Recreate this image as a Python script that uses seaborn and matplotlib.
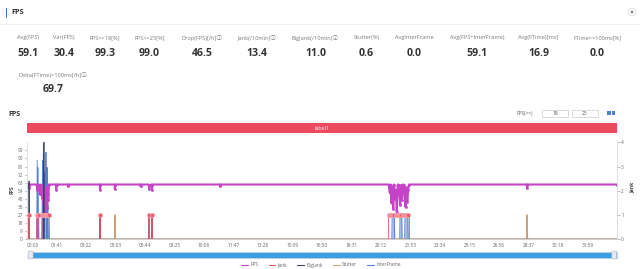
import matplotlib
matplotlib.use("Agg")
import matplotlib.pyplot as plt
import seaborn as sns
from matplotlib.patches import Rectangle, FancyBboxPatch, Circle
from matplotlib.lines import Line2D

sns.set_theme(style="white")
plt.rcParams['font.family'] = ['Open Sans', 'DejaVu Sans', 'Noto Sans CJK SC']

# ---------------- data ----------------
metric_labels = ["Avg(FPS)", "Var(FPS)", "FPS>=18[%]", "FPS>=25[%]", "Drop(FPS)[/h]ⓘ",
                 "Jank(/10min)ⓘ", "BigJank(/10min)ⓘ", "Stutter(%)", "AvgInterFrame",
                 "Avg(FPS+InterFrame)", "Avg(FTime)[ms]", "FTime>=100ms[%]"]
metric_values = ["59.1", "30.4", "99.3", "99.0", "46.5", "13.4", "11.0", "0.6", "0.0",
                 "59.1", "16.9", "0.0"]
metric2_label = "Delta(FTime)>100ms[/h]ⓘ"
metric2_value = "69.7"

# seconds from start
fps_t = [0, 6, 7, 8, 33, 35, 37, 41, 44, 47, 50, 53, 55, 57, 59, 61, 63, 65, 67, 69, 71, 73, 75,
         99, 100, 101, 140, 141, 142, 249, 250, 251, 300, 301, 302, 388, 389, 390, 417, 418, 420,
         427, 428, 429, 660, 661, 662, 1238, 1242, 1245, 1248, 1251, 1254, 1257, 1260, 1263, 1266,
         1269, 1272, 1275, 1278, 1281, 1284, 1287, 1290, 1293, 1296, 1299, 1302, 1305, 1308,
         1711, 1712, 1713, 2020]
fps_v = [61, 61, 57, 61, 61, 55, 61, 61, 50, 61, 58, 46, 60, 38, 56, 30, 52, 42, 58, 35, 50, 44, 61,
         61, 55, 61, 61, 59, 61, 61, 55, 61, 61, 56, 61, 61, 59, 61, 61, 56, 60,
         61, 55, 61, 61, 59, 61, 61, 52, 61, 40, 58, 34, 61, 45, 55, 30,
         61, 61, 50, 38, 60, 44, 61, 61, 48, 36, 58, 42, 55, 61,
         61, 57, 61, 61]

jank_t = [0, 6, 7, 8, 33, 34, 40, 41, 51, 52, 76, 77, 249, 250, 251, 417, 418, 419, 427, 428, 429,
          1237, 1238, 1309, 1310, 2020]
jank_v = [0, 0, 1, 0, 0, 1, 1, 0, 0, 1, 1, 0, 0, 1, 0, 0, 1, 0, 0, 1, 0,
          0, 1, 1, 0, 0]
jank_mark_t = [7, 34, 37, 40, 52, 55, 58, 61, 64, 67, 70, 73, 76, 250, 418, 428,
               1238, 1242, 1246, 1250, 1254, 1258, 1262, 1266, 1270, 1274, 1278, 1282,
               1286, 1290, 1294, 1298, 1302, 1306]
jank_mark_v = [1] * len(jank_mark_t)

bigjank_t = [0, 6, 7, 8, 57, 58, 59, 249, 250, 251, 417, 418, 419, 427, 428, 429, 2020]
bigjank_v = [0, 0, 2.4, 0, 0, 4.0, 0, 0, 1, 0, 0, 1, 0, 0, 1, 0, 0]

stutter_t = [0, 300, 301, 302, 1711, 1712, 1713, 2020]
stutter_v = [0, 0, 1, 0, 0, 1, 0, 0]

inter_t = [0, 33, 35, 36, 38, 39, 51, 53, 54, 56, 57, 59, 60, 62, 63, 65, 66, 68, 69, 70, 72, 73,
           1249, 1250, 1258, 1259, 1276, 1277, 1283, 1284, 1293, 1294, 1304, 1305, 2020]
inter_v = [0, 0, 88, 0, 80, 0, 0, 88, 0, 95, 20, 75, 10, 60, 30, 97, 0, 50, 80, 0, 40, 0,
           0, 26, 26, 0, 0, 26, 26, 0, 0, 26, 26, 0, 0]

tick_seconds = [0, 101, 202, 303, 404, 505, 606, 707, 808, 909, 1010, 1111, 1212, 1313, 1414,
                1515, 1616, 1717, 1818, 1919]
tick_labels = ["00:00", "01:41", "03:22", "05:03", "06:44", "08:25", "10:06", "11:47", "13:28",
               "15:09", "16:50", "18:31", "20:12", "21:53", "23:34", "25:15", "26:56", "28:37",
               "30:18", "31:59"]
fps_ticks = [0, 9, 18, 27, 36, 45, 54, 63, 72, 81, 90, 99]
jank_ticks = [0, 1, 2, 3, 4]

# ---------------- styling ----------------
C_FPS = "#c443c6"
C_JANK = "#ec5066"
C_BIG = "#3d4263"
C_STUT = "#c9a27a"
C_INTER = "#4f7fd6"
W, H = 640, 269

fig = plt.figure(figsize=(6.4, 2.69), dpi=100)
fig.patch.set_facecolor("white")

ov = fig.add_axes([0, 0, 1, 1], zorder=0)
ov.set_xlim(0, W)
ov.set_ylim(H, 0)
ov.axis("off")

# header
ov.add_patch(Rectangle((5.5, 8), 1.6, 9.5, color="#3a6fd8", lw=0))
ov.text(11, 12.8, "FPS", fontsize=5.3, fontweight="bold", color="#333333", va="center", ha="left")
ov.add_patch(Circle((632, 12), 3.6, facecolor="white", edgecolor="#d5d5d5", lw=0.5))
ov.add_patch(Circle((632, 12), 0.7, color="#888888"))
ov.plot([0, W], [24, 24], color="#eeeeee", lw=0.6)

# metrics
col_x = [28.5, 63.5, 105, 149.5, 202, 257, 315.5, 366.5, 414, 477, 538.5, 597.5]
for x, lab, val in zip(col_x, metric_labels, metric_values):
    ov.text(x, 38, lab, fontsize=4.1, color="#7a7a7a", ha="center", va="center")
    ov.text(x, 53.5, val, fontsize=7.6, fontweight="bold", color="#333333", ha="center", va="center")
ov.text(53, 75, metric2_label, fontsize=4.1, color="#7a7a7a", ha="center", va="center")
ov.text(53, 90, metric2_value, fontsize=7.6, fontweight="bold", color="#333333", ha="center", va="center")

# chart title and controls
ov.text(8, 114.5, "FPS", fontsize=5.0, fontweight="bold", color="#333333", va="center", ha="left")
ov.text(533, 113, "FPS(>=)", fontsize=3.5, color="#555555", ha="right", va="center")
ov.add_patch(Rectangle((542, 109.5), 26, 7.5, facecolor="white", edgecolor="#cccccc", lw=0.5))
ov.text(555, 113.3, "18", fontsize=3.5, color="#555555", ha="center", va="center")
ov.add_patch(Rectangle((572, 109.5), 26, 7.5, facecolor="white", edgecolor="#cccccc", lw=0.5))
ov.text(585, 113.3, "25", fontsize=3.5, color="#555555", ha="center", va="center")
ov.add_patch(Rectangle((607, 111), 3.6, 3.6, color=C_INTER, lw=0))
ov.add_patch(Rectangle((611.6, 111), 3.6, 3.6, color=C_INTER, lw=0))

# red label bar
ov.add_patch(Rectangle((27, 122.7), 590, 10.6, color="#ec4a5e", lw=0))
ov.text(322, 128.2, "label1", fontsize=3.8, color="white", ha="center", va="center")

# axis names
ov.text(11.5, 190, "FPS", fontsize=3.6, fontweight="bold", color="#444444", rotation=90,
        ha="center", va="center")
ov.text(632, 187, "Jank", fontsize=3.6, fontweight="bold", color="#444444", rotation=90,
        ha="center", va="center")

# data zoom slider
ov.add_patch(Rectangle((28, 251.8), 589, 6.4, facecolor="#3d9de0", edgecolor="#c9d6e8", lw=0.4))
ov.add_patch(FancyBboxPatch((28.3, 251.3), 4.6, 7.4, boxstyle="round,pad=0.2,rounding_size=1",
                            facecolor="#e6eaf0", edgecolor="#a9b3c2", lw=0.4))
ov.add_patch(FancyBboxPatch((612, 251.3), 4.6, 7.4, boxstyle="round,pad=0.2,rounding_size=1",
                            facecolor="#e6eaf0", edgecolor="#a9b3c2", lw=0.4))

# ---------------- plot ----------------
ax = fig.add_axes([27 / W, (H - 239.3) / H, 590 / W, 97 / H], zorder=1)
ax.set_facecolor("none")

ax.fill_between(inter_t, inter_v, 0, color=C_INTER, alpha=0.55, lw=0)
sns.lineplot(x=inter_t, y=inter_v, ax=ax, color=C_INTER, lw=0.6, estimator=None)
sns.lineplot(x=fps_t, y=fps_v, ax=ax, color=C_FPS, lw=1.5, estimator=None,
             marker="o", markersize=2.0, markeredgewidth=0)
ax.set_xlim(0, 2020)
ax.set_ylim(0, 108)
ax.set_yticks(fps_ticks)
ax.set_xticks(tick_seconds)
ax.set_xticklabels(tick_labels)
ax.get_xticklabels()[0].set_horizontalalignment("left")
ax.set_xlabel("")
ax.set_ylabel("")

ax2 = ax.twinx()
ax2.set_facecolor("none")
sns.lineplot(x=stutter_t, y=stutter_v, ax=ax2, color=C_STUT, lw=1.1, estimator=None)
sns.lineplot(x=bigjank_t, y=bigjank_v, ax=ax2, color=C_BIG, lw=0.6, estimator=None)
sns.lineplot(x=jank_t, y=jank_v, ax=ax2, color=C_JANK, lw=0.6, estimator=None)
sns.scatterplot(x=jank_mark_t, y=jank_mark_v, ax=ax2, color="#ee5a6d", s=9,
                edgecolor="#f7a9b4", linewidth=0.5, zorder=5)
ax2.set_ylim(0, 4)
ax2.set_yticks(jank_ticks)
ax2.set_xlim(0, 2020)
ax2.set_ylabel("")

for a in (ax, ax2):
    a.spines["top"].set_visible(False)
    a.spines["left"].set_color("#dddddd")
    a.spines["right"].set_color("#dddddd")
    a.spines["bottom"].set_color("#cccccc")
    for s in a.spines.values():
        s.set_linewidth(0.5)
    a.tick_params(axis="both", labelsize=3.4, colors="#888888", labelcolor="#666666",
                  length=1.8, width=0.4, pad=1.2)

# legend
handles = [Line2D([], [], color=C_FPS, lw=0.8), Line2D([], [], color=C_JANK, lw=0.8),
           Line2D([], [], color=C_BIG, lw=0.8), Line2D([], [], color=C_STUT, lw=0.8),
           Line2D([], [], color=C_INTER, lw=0.8)]
fig.legend(handles, ["FPS", "Jank", "BigJank", "Stutter", "InterFrame"], loc="center",
           bbox_to_anchor=(321 / W, 1 - 265 / H), ncol=5, frameon=False, fontsize=3.4,
           handlelength=1.4, handletextpad=0.5, columnspacing=2.2, labelcolor="#666666")

fig.savefig("out.png", dpi=100, facecolor="white")
